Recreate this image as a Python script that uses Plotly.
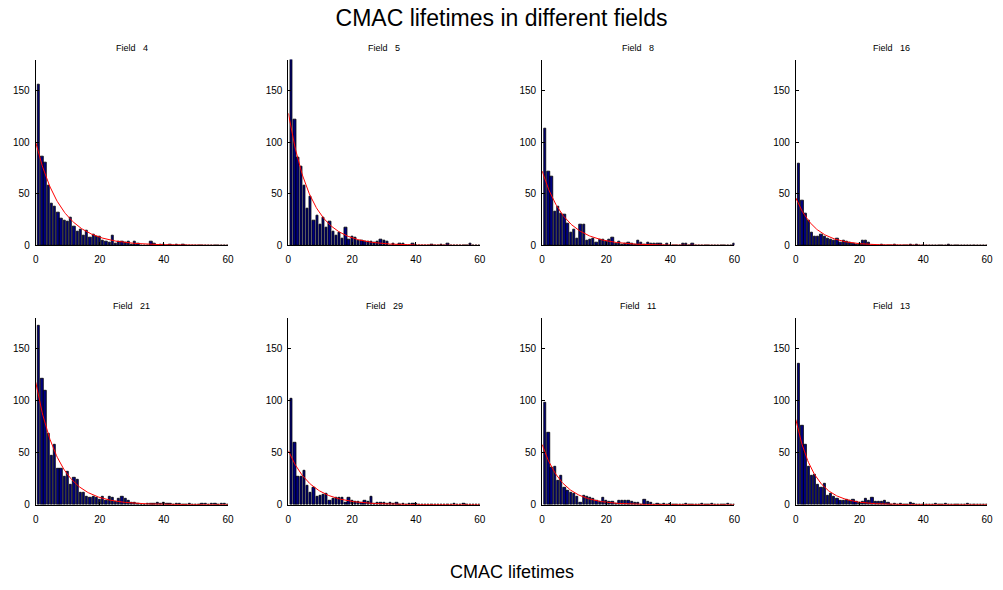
import plotly.graph_objects as go
import math

fields = ["4", "5", "8", "16", "21", "29", "11", "13"]

lifetimes = list(range(1, 61))

def pad(vals):
    return vals + [0] * (60 - len(vals))

counts_f4 = pad([156, 86, 80, 58, 41, 38, 32, 26, 24, 23, 27, 18, 13, 15, 10, 14, 8, 11, 9, 9,
                 5, 4, 3, 10, 2, 4, 4, 3, 4, 1, 4, 2, 0, 0, 0, 4, 2, 0, 1, 1, 0, 1, 0, 1, 0, 1])
counts_f5 = pad([185, 122, 85, 76, 58, 36, 47, 24, 29, 20, 27, 17, 23, 13, 10, 12, 7, 17, 6, 9,
                 8, 5, 5, 4, 4, 4, 3, 4, 6, 5, 4, 0, 2, 0, 2, 2, 0, 0, 2, 0, 0, 0, 0, 0, 1, 0, 0,
                 1, 0, 2, 0, 0, 0, 0, 0, 0, 2])
counts_f8 = pad([113, 72, 67, 33, 38, 31, 30, 21, 12, 15, 7, 20, 20, 5, 6, 7, 3, 6, 6, 4,
                 6, 8, 2, 4, 1, 2, 3, 2, 1, 5, 3, 1, 3, 2, 2, 2, 2, 0, 2, 0, 0, 0, 0, 2, 2, 0, 2,
                 0, 0, 0, 0, 0, 0, 0, 0, 0, 0, 0, 0, 2])
counts_f16 = pad([79, 43, 31, 24, 12, 9, 9, 11, 9, 7, 6, 5, 7, 3, 5, 4, 3, 2, 1, 2,
                  5, 5, 3, 0, 0, 0, 1, 0, 0, 0, 1, 0, 0, 0, 0, 1, 0, 1, 0, 0, 0, 0, 0, 0, 0, 0,
                  0, 1])
counts_f21 = pad([172, 121, 110, 68, 47, 58, 35, 35, 27, 32, 19, 26, 24, 12, 12, 8, 7, 8, 7, 5,
                  8, 4, 8, 7, 3, 6, 8, 6, 4, 2, 2, 1, 0, 0, 1, 1, 1, 2, 1, 2, 1, 1, 0, 1, 1, 0,
                  0, 1, 0, 0, 0, 1, 1, 0, 1, 1, 0, 1, 1])
counts_f29 = pad([102, 60, 27, 27, 33, 18, 12, 16, 8, 9, 10, 11, 4, 6, 7, 7, 7, 2, 7, 4,
                  3, 3, 2, 4, 3, 8, 1, 2, 2, 2, 1, 2, 1, 2, 0, 1, 0, 1, 1, 1, 0, 0, 0, 0, 0, 0,
                  0, 0, 0, 0, 0, 1, 0, 0, 1])
counts_f11 = pad([98, 69, 36, 37, 23, 28, 16, 14, 12, 11, 8, 2, 9, 8, 7, 6, 4, 3, 7, 4,
                  3, 3, 1, 4, 4, 4, 4, 3, 2, 2, 0, 5, 3, 2, 0, 1, 0, 1, 0, 1, 0, 0, 0, 0, 1, 0,
                  0, 0, 0, 1, 0, 0, 1, 0, 0, 0, 0, 1])
counts_f13 = pad([136, 76, 58, 37, 28, 29, 19, 16, 20, 9, 11, 8, 6, 4, 4, 5, 4, 5, 3, 2,
                  3, 6, 4, 7, 3, 3, 3, 4, 2, 0, 1, 0, 1, 0, 0, 2, 1, 0, 0, 0, 0, 0, 0, 1, 0, 0,
                  1, 0, 0, 0, 0, 0, 0, 1])

all_counts = [counts_f4, counts_f5, counts_f8, counts_f16,
              counts_f21, counts_f29, counts_f11, counts_f13]

# fitted exponential model parameters (amplitude, decay constant) per field
fit_amplitude = [100, 128, 72, 46, 118, 52, 58, 82]
fit_tau = [7.9, 7.0, 7.2, 6.1, 7.1, 7.2, 6.3, 5.7]

x_ticks = [0, 20, 40, 60]
y_ticks = [0, 50, 100, 150]

x_domains = [(0.0329, 0.2263), (0.2871, 0.4796), (0.5424, 0.7358), (0.7976, 0.990)]
y_domains = [(0.5797, 0.898), (0.1356, 0.456)]

fig = go.Figure()
annotations = []

curve_x = [i * 0.25 for i in range(0, 241)]
FONT = "Liberation Sans, Arial"

for k in range(8):
    row, col = divmod(k, 4)
    idx = k + 1
    xa = "x" if idx == 1 else f"x{idx}"
    ya = "y" if idx == 1 else f"y{idx}"
    fig.add_trace(go.Bar(x=lifetimes, y=all_counts[k], width=0.72,
                         marker=dict(color="#000080", line=dict(color="black", width=0.8)),
                         xaxis=xa, yaxis=ya, showlegend=False, hoverinfo="x+y"))
    a, t = fit_amplitude[k], fit_tau[k]
    curve_y = [a * math.exp(-xx / t) for xx in curve_x]
    fig.add_trace(go.Scatter(x=curve_x, y=curve_y, mode="lines",
                             line=dict(color="red", width=1),
                             xaxis=xa, yaxis=ya, showlegend=False, cliponaxis=True))
    axis_common = dict(showline=True, linecolor="black", linewidth=1, ticks="inside",
                       ticklen=3, tickcolor="black", showgrid=False, zeroline=False,
                       tickfont=dict(family=FONT, size=10, color="black"))
    fig.layout[f"xaxis{idx if idx > 1 else ''}"] = dict(
        domain=x_domains[col], range=[0, 60], anchor=ya, tickvals=x_ticks,
        ticklabelstandoff=5, **axis_common)
    fig.layout[f"yaxis{idx if idx > 1 else ''}"] = dict(
        domain=y_domains[row], range=[0, 180], anchor=xa, tickvals=y_ticks,
        ticklabelstandoff=3, **axis_common)
    annotations.append(dict(
        text="Field\u00a0\u00a0\u00a0" + fields[k], xref="paper", yref="paper",
        x=(x_domains[col][0] + x_domains[col][1]) / 2, y=y_domains[row][1] + 0.008,
        xanchor="center", yanchor="bottom", showarrow=False,
        font=dict(family=FONT, size=9, color="black")))

annotations.append(dict(text="CMAC lifetimes", xref="paper", yref="paper",
                        x=0.512, y=0.0, xanchor="center", yanchor="bottom", showarrow=False,
                        font=dict(family=FONT, size=18, color="black")))

fig.update_layout(
    width=1003, height=590,
    margin=dict(l=0, r=0, t=0, b=0),
    paper_bgcolor="white", plot_bgcolor="white",
    bargap=0,
    title=dict(text="CMAC lifetimes in different fields", x=0.5, xanchor="center",
               y=0.969, yanchor="middle",
               font=dict(family=FONT, size=23, color="black")),
    annotations=annotations,
)

fig.write_html("out.html")
